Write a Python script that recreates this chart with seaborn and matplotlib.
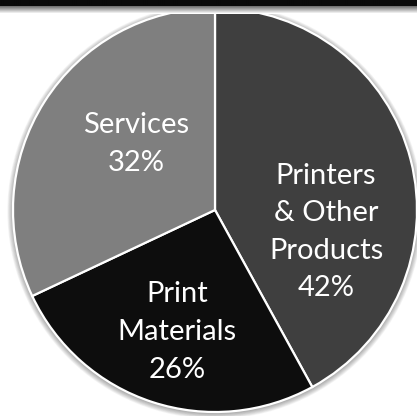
import numpy as np
import matplotlib
matplotlib.use("Agg")
import matplotlib.pyplot as plt
from matplotlib.patches import Circle
import seaborn as sns

# ---- data ----
categories = ["Printers\n& Other\nProducts", "Print\nMaterials", "Services"]
shares = [42, 26, 32]
slice_colors = ["#3f3f3f", "#0d0d0d", "#7f7f7f"]

sns.set_theme(style="white")
plt.rcParams["font.family"] = ["Lato", "DejaVu Sans"]

W, H, DPI = 417, 416, 100
fig = plt.figure(figsize=(W / DPI, H / DPI), dpi=DPI)
fig.patch.set_facecolor("white")

# pie axes: centre (215, 210) px from top-left, radius 202 px
cx, cy, R = 215, 210, 202
ax = fig.add_axes([(cx - R) / W, (H - cy - R) / H, 2 * R / W, 2 * R / H])

# soft shadow behind the pie
for k in range(8):
    ax.add_patch(Circle((0.0, -0.006), 1.0 + 0.0035 * (k + 1), facecolor="black",
                        edgecolor="none", alpha=0.045, zorder=0, clip_on=False))

wedges, _ = ax.pie(shares, colors=slice_colors, startangle=90, counterclock=False,
                   radius=1.0, wedgeprops=dict(edgecolor="white", linewidth=1.6),
                   frame=True)
for w in wedges:
    w.set_zorder(2)
    w.set_clip_on(False)
ax.set_xlim(-1, 1)
ax.set_ylim(-1, 1)
ax.axis("off")

# label anchor positions (fraction of radius)
label_pos = [(0.550, -0.109), (-0.188, -0.604), (-0.391, 0.327)]
for cat, val, (lx, ly) in zip(categories, shares, label_pos):
    ax.text(lx, ly, f"{cat}\n{val}%", ha="center", va="center", color="white",
            fontsize=21, linespacing=1.55, zorder=5)

# dark band at the top with a fading shadow
band = fig.add_axes([0, 1 - 14 / H, 1, 14 / H])
grad = np.ones((14, 1))
grad[:6] = 0.04
grad[6:, 0] = np.linspace(0.45, 1.0, 8)
band.imshow(np.repeat(grad, 10, axis=1), cmap="gray", vmin=0, vmax=1,
            aspect="auto", interpolation="bilinear")
band.axis("off")

fig.savefig("out.png", dpi=DPI, facecolor="white")
